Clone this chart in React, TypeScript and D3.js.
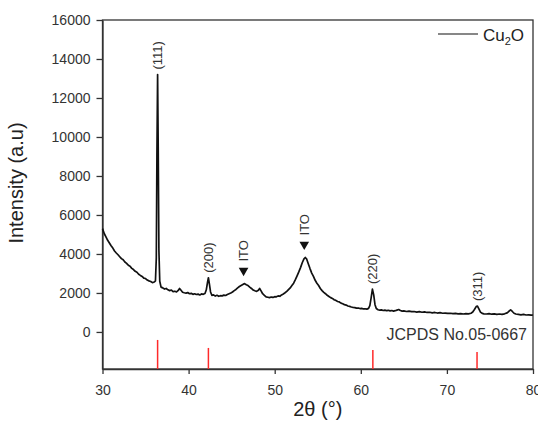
import { useEffect, useRef } from 'react';
import * as d3 from 'd3';

// XRD pattern, [2θ, intensity]
const pattern: [number, number][] = [
  [30.0, 5300], [30.2, 5050], [30.4, 4880], [30.6, 4700], [30.8, 4560], [31.0, 4420], [31.2, 4300], [31.4, 4150],
  [31.6, 4050], [31.8, 3960], [32.0, 3860], [32.2, 3760], [32.4, 3700], [32.6, 3590], [32.8, 3520], [33.0, 3420],
  [33.2, 3370], [33.4, 3260], [33.6, 3200], [33.8, 3110], [34.0, 3060], [34.2, 2960], [34.4, 2900], [34.6, 2850],
  [34.8, 2760], [35.0, 2740], [35.2, 2660], [35.4, 2620], [35.6, 2590], [35.8, 2530], [36.0, 2560], [36.15, 2620],
  [36.25, 3800], [36.32, 9000], [36.4, 13200], [36.47, 9500], [36.55, 4200], [36.65, 2600], [36.8, 2300],
  [37.0, 2260], [37.2, 2200], [37.4, 2230], [37.6, 2160], [37.8, 2120], [38.0, 2150], [38.2, 2070], [38.4, 2090],
  [38.6, 2050], [38.8, 2130], [38.95, 2230], [39.1, 2150], [39.3, 2040], [39.5, 2010], [39.7, 1990], [39.9, 2020],
  [40.1, 1960], [40.3, 1980], [40.5, 1930], [40.7, 1960], [40.9, 1920], [41.1, 1940], [41.3, 1900], [41.5, 1950],
  [41.7, 1930], [41.9, 1970], [42.05, 2150], [42.2, 2550], [42.3, 2780], [42.4, 2500], [42.55, 2050], [42.7, 1880],
  [42.9, 1900], [43.1, 1840], [43.3, 1880], [43.5, 1830], [43.7, 1860], [43.9, 1850], [44.1, 1890], [44.3, 1870],
  [44.5, 1920], [44.7, 1960], [44.9, 2000], [45.1, 2050], [45.3, 2120], [45.5, 2180], [45.7, 2260], [45.9, 2330],
  [46.1, 2380], [46.3, 2430], [46.5, 2480], [46.7, 2420], [46.9, 2380], [47.1, 2300], [47.3, 2230], [47.5, 2150],
  [47.7, 2110], [47.9, 2080], [48.1, 2140], [48.25, 2230], [48.4, 2120], [48.6, 1960], [48.8, 1880], [49.0, 1800],
  [49.2, 1780], [49.4, 1760], [49.6, 1790], [49.8, 1770], [50.0, 1810], [50.2, 1800], [50.4, 1850], [50.6, 1830],
  [50.8, 1900], [51.0, 1950], [51.2, 2010], [51.4, 2080], [51.6, 2170], [51.8, 2260], [52.0, 2380], [52.2, 2500],
  [52.4, 2680], [52.6, 2880], [52.8, 3080], [53.0, 3300], [53.2, 3550], [53.4, 3750], [53.55, 3820], [53.7, 3750],
  [53.9, 3500], [54.1, 3250], [54.3, 3020], [54.5, 2850], [54.7, 2650], [54.9, 2500], [55.1, 2380], [55.3, 2230],
  [55.5, 2120], [55.7, 2030], [55.9, 1960], [56.1, 1880], [56.3, 1820], [56.5, 1760], [56.7, 1720], [56.9, 1650],
  [57.1, 1620], [57.3, 1560], [57.5, 1540], [57.7, 1480], [57.9, 1450], [58.1, 1400], [58.3, 1380], [58.5, 1330],
  [58.7, 1310], [58.9, 1280], [59.1, 1260], [59.3, 1250], [59.5, 1220], [59.7, 1230], [59.9, 1200], [60.1, 1210],
  [60.3, 1180], [60.5, 1190], [60.7, 1170], [60.9, 1210], [61.05, 1350], [61.2, 1750], [61.35, 2200], [61.5, 1900],
  [61.65, 1400], [61.8, 1200], [62.0, 1140], [62.2, 1120], [62.4, 1130], [62.6, 1100], [62.8, 1120], [63.0, 1090],
  [63.2, 1110], [63.4, 1080], [63.6, 1100], [63.8, 1070], [64.0, 1090], [64.2, 1120], [64.4, 1150], [64.6, 1100],
  [64.8, 1070], [65.0, 1080], [65.3, 1050], [65.6, 1070], [65.9, 1040], [66.2, 1050], [66.5, 1020], [66.8, 1040],
  [67.1, 1010], [67.4, 1030], [67.7, 1000], [68.0, 1010], [68.3, 980], [68.6, 1000], [68.9, 970], [69.2, 990],
  [69.5, 960], [69.8, 970], [70.1, 950], [70.4, 960], [70.7, 940], [71.0, 950], [71.3, 930], [71.6, 940],
  [71.9, 920], [72.2, 940], [72.5, 930], [72.8, 960], [73.0, 1020], [73.2, 1150], [73.4, 1300], [73.55, 1330],
  [73.7, 1200], [73.9, 1020], [74.1, 950], [74.3, 930], [74.6, 920], [74.9, 940], [75.2, 910], [75.5, 930],
  [75.8, 900], [76.1, 920], [76.4, 900], [76.7, 930], [77.0, 980], [77.2, 1060], [77.4, 1130], [77.6, 1050],
  [77.8, 960], [78.0, 920], [78.3, 900], [78.6, 880], [78.9, 900], [79.2, 870], [79.5, 880], [79.8, 860], [80.0, 870],
];

// Cu2O reference lines (JCPDS 05-0667): position and top of the stick
const refPositions = [36.4, 42.3, 61.4, 73.5];
const refTops = [-410, -820, -920, -1025];

// peak labels
const hklLabels = ['(111)', '(200)', '(220)', '(311)'];
const hklPeaks = [13200, 2780, 2200, 1330];
const itoPositions = [46.5, 53.55];
const itoPeaks = [2480, 3820];

const xTicks = [30, 40, 50, 60, 70, 80];
const yTicks = [0, 2000, 4000, 6000, 8000, 10000, 12000, 14000, 16000];

export default function App() {
  const ref = useRef<SVGSVGElement>(null);

  useEffect(() => {
    const W = 538, H = 425;
    const margin = { top: 20, right: 5, bottom: 56, left: 102.5 };
    const width = W - margin.left - margin.right;
    const height = H - margin.top - margin.bottom;
    const font = 'Liberation Sans, Arial, sans-serif';
    const ink = '#333';

    const root = d3.select(ref.current);
    root.selectAll('*').remove();
    const svg = root.append('g').attr('transform', `translate(${margin.left},${margin.top})`);

    const x = d3.scaleLinear().domain([30, 80]).range([0, width]);
    const y = d3.scaleLinear().domain([-1900, 16000]).range([height, 0]);

    // frame
    svg.append('rect')
      .attr('width', width).attr('height', height)
      .attr('fill', 'none').attr('stroke', ink).attr('stroke-width', 1.3);

    const xAxis = svg.append('g')
      .attr('transform', `translate(0,${height})`)
      .call(d3.axisBottom(x).tickValues(xTicks).tickFormat(d3.format('d')).tickSize(5).tickPadding(11).tickSizeOuter(0));
    const yAxis = svg.append('g')
      .call(d3.axisLeft(y).tickValues(yTicks).tickFormat(d3.format('d')).tickSize(6).tickPadding(6).tickSizeOuter(0));
    [xAxis, yAxis].forEach(a => {
      a.select('.domain').attr('stroke', ink).attr('stroke-width', 1.3);
      a.selectAll('line').attr('stroke', ink).attr('stroke-width', 1.3);
      a.selectAll('text').attr('font-family', font).attr('font-size', 14).attr('fill', ink);
    });

    // axis titles
    svg.append('text')
      .attr('transform', `translate(${-80},${163}) rotate(-90)`)
      .attr('text-anchor', 'middle')
      .attr('font-family', font).attr('font-size', 20).attr('fill', '#222')
      .text('Intensity (a.u)');
    svg.append('text')
      .attr('x', width / 2).attr('y', height + 47)
      .attr('text-anchor', 'middle')
      .attr('font-family', font).attr('font-size', 20).attr('fill', '#222')
      .text('2θ (°)');

    // reference sticks
    svg.selectAll('.stick')
      .data(refPositions)
      .enter().append('line')
      .attr('class', 'stick')
      .attr('x1', d => x(d)).attr('x2', d => x(d))
      .attr('y1', (d, i) => y(refTops[i])).attr('y2', height)
      .attr('stroke', '#ff2a2a').attr('stroke-width', 1.5);

    svg.append('text')
      .attr('x', width - 6).attr('y', y(-400))
      .attr('text-anchor', 'end')
      .attr('font-family', font).attr('font-size', 16).attr('fill', ink)
      .text('JCPDS No.05-0667');

    // pattern
    const line = d3.line<[number, number]>()
      .x(d => x(d[0]))
      .y(d => y(d[1]));
    svg.append('path')
      .datum(pattern)
      .attr('fill', 'none')
      .attr('stroke', '#111')
      .attr('stroke-width', 1.7)
      .attr('stroke-linejoin', 'round')
      .attr('d', line);

    // hkl labels
    svg.selectAll('.hkl')
      .data(hklLabels)
      .enter().append('text')
      .attr('class', 'hkl')
      .attr('transform', (d, i) => `translate(${x(refPositions[i]) + 4.5},${y(hklPeaks[i]) - 5}) rotate(-90)`)
      .attr('font-family', font).attr('font-size', 13).attr('fill', ink)
      .text(d => d);

    // ITO markers
    const ito = svg.selectAll('.ito')
      .data(itoPositions)
      .enter().append('g')
      .attr('class', 'ito')
      .attr('transform', (d, i) => `translate(${x(d) - 1},${y(itoPeaks[i]) - 13})`);
    ito.append('path')
      .attr('d', d3.symbol(d3.symbolTriangle, 40))
      .attr('transform', 'rotate(180)')
      .attr('fill', '#111');
    ito.append('text')
      .attr('transform', 'translate(4.5,-9) rotate(-90)')
      .attr('font-family', font).attr('font-size', 13).attr('fill', ink)
      .text('ITO');

    // legend
    const legend = svg.append('g').attr('transform', `translate(${width - 95},14)`);
    legend.append('line')
      .attr('x1', 0).attr('x2', 40)
      .attr('stroke', '#111').attr('stroke-width', 1.2);
    const lt = legend.append('text')
      .attr('x', 45).attr('y', 7)
      .attr('font-family', font).attr('font-size', 17).attr('fill', '#222');
    lt.append('tspan').text('Cu');
    lt.append('tspan').attr('font-size', 11).attr('dy', 4).text('2');
    lt.append('tspan').attr('dy', -4).text('O');
  }, []);

  return (
    <svg
      ref={ref}
      width={538}
      height={425}
      style={{ position: 'absolute', left: 0, top: 0, background: '#fff' }}
    />
  );
}
